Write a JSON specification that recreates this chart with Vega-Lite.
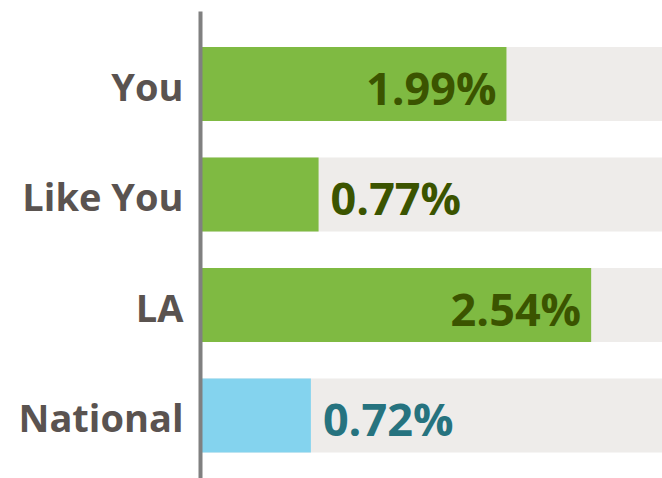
{
  "$schema": "https://vega.github.io/schema/vega-lite/v6.json",
  "autosize": "none",
  "padding": {"left": 200, "top": 11, "right": 0, "bottom": 0},
  "width": 462,
  "height": 467,
  "background": "white",
  "config": {"view": {"stroke": null}, "font": "Open Sans"},
  "data": {
    "values": [
      {"name": "You", "value": 1.99, "group": "local"},
      {"name": "Like You", "value": 0.77, "group": "local"},
      {"name": "LA", "value": 2.54, "group": "local"},
      {"name": "National", "value": 0.72, "group": "national"}
    ]
  },
  "transform": [{"calculate": "format(datum.value, '.2f') + '%'", "as": "label"}],
  "encoding": {
    "y": {
      "field": "name",
      "type": "nominal",
      "sort": null,
      "scale": {"paddingInner": 0.33, "paddingOuter": 0.278, "align": 0.585},
      "axis": {
        "title": null,
        "ticks": false,
        "domainColor": "#808080",
        "domainWidth": 4,
        "labelFont": "Open Sans",
        "labelFontWeight": "bold",
        "labelFontSize": 38,
        "labelColor": "#5a5350",
        "labelPadding": 17,
        "labelOffset": 6,
        "zindex": 1
      }
    }
  },
  "layer": [
    {
      "mark": {"type": "bar", "color": "#eeecea"},
      "encoding": {"x": {"datum": 3, "type": "quantitative", "scale": {"domain": [0, 3]}, "axis": null}}
    },
    {
      "mark": {"type": "bar"},
      "encoding": {
        "x": {"field": "value", "type": "quantitative", "scale": {"domain": [0, 3]}, "axis": null},
        "color": {"field": "group", "type": "nominal", "scale": {"domain": ["local", "national"], "range": ["#7fba42", "#84d3ee"]}, "legend": null}
      }
    },
    {
      "transform": [{"filter": "datum.value >= 1.5"}],
      "mark": {"type": "text", "align": "right", "baseline": "middle", "dx": -10, "dy": 7, "fontSize": 45, "fontWeight": "bold", "font": "Open Sans"},
      "encoding": {
        "x": {"field": "value", "type": "quantitative", "scale": {"domain": [0, 3]}, "axis": null},
        "text": {"field": "label", "type": "nominal"},
        "color": {"field": "group", "type": "nominal", "scale": {"domain": ["local", "national"], "range": ["#3b5400", "#26737f"]}, "legend": null}
      }
    },
    {
      "transform": [{"filter": "datum.value < 1.5"}],
      "mark": {"type": "text", "align": "left", "baseline": "middle", "dx": 12, "dy": 7, "fontSize": 45, "fontWeight": "bold", "font": "Open Sans"},
      "encoding": {
        "x": {"field": "value", "type": "quantitative", "scale": {"domain": [0, 3]}, "axis": null},
        "text": {"field": "label", "type": "nominal"},
        "color": {"field": "group", "type": "nominal", "scale": {"domain": ["local", "national"], "range": ["#3b5400", "#26737f"]}, "legend": null}
      }
    }
  ],
  "resolve": {"scale": {"color": "independent"}}
}
